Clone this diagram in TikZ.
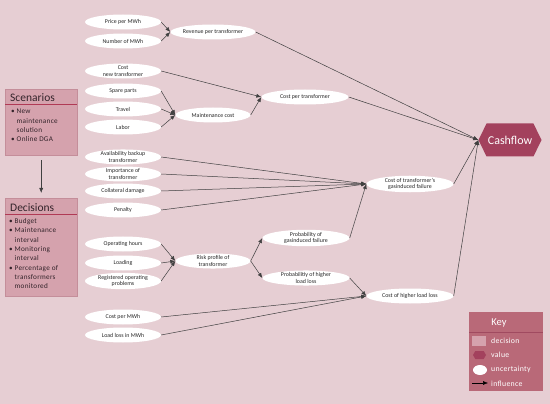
\documentclass[tikz,border=0pt]{standalone}
\usepackage{fontspec}
\setmainfont{Carlito}
\newfontfamily\boxfont[LetterSpace=4]{Carlito}
\usetikzlibrary{shapes.geometric,shapes.symbols,arrows.meta}
\definecolor{bg}{HTML}{E6CED3}
\definecolor{boxc}{HTML}{D5A2AD}
\definecolor{boxline}{HTML}{C48E9A}
\definecolor{titleline}{HTML}{B03A55}
\definecolor{keyc}{HTML}{B96978}
\definecolor{keyline}{HTML}{A04A60}
\definecolor{valc}{HTML}{A3415D}
\definecolor{txt}{HTML}{33232A}
\tikzset{
  unc/.style={ellipse, fill=white, minimum width=76pt, minimum height=15pt, inner sep=0pt,
    font=\fontsize{5.9}{6.5}\selectfont, align=center, text=black!85},
  wide/.style={minimum width=87pt},
  arr/.style={-{Latex[length=5pt,width=4pt]}, draw=black!75, line width=0.5pt},
  sbox/.style={rectangle, fill=boxc, draw=boxline, line width=0.4pt, minimum width=72pt, anchor=north west, inner sep=0pt},
  btitle/.style={anchor=west, font=\fontsize{11.5}{13}\selectfont, text=txt, inner sep=0pt},
  blist/.style={anchor=north west, align=left, font=\boxfont\fontsize{7.2}{9.3}\selectfont, text=txt, inner sep=0pt},
  ktext/.style={anchor=west, font=\boxfont\fontsize{7.8}{9}\selectfont, text=white, inner sep=0pt},
}
\begin{document}
\begin{tikzpicture}[x=1pt,y=-1pt]
\fill[bg] (0,0) rectangle (550,404);
\useasboundingbox (0,0) rectangle (550,404);

% uncertainty nodes
\node[unc] (price) at (123,22) {Price per MWh};
\node[unc] (nmwh) at (123,41) {Number of MWh};
\node[unc,minimum width=75pt] (rev) at (213,32) {Revenue per transformer};
\node[unc] (cnew) at (123,71) {Cost\\new transformer};
\node[unc] (spare) at (123,91) {Spare parts};
\node[unc] (travel) at (123,109) {Travel};
\node[unc] (labor) at (123,127) {Labor};
\node[unc,minimum width=75pt] (maint) at (213,115) {Maintenance cost};
\node[unc,wide] (cpt) at (305,97) {Cost per transformer};
\node[unc] (avail) at (123,157) {Availability backup\\transformer};
\node[unc] (imp) at (123,174) {Importance of\\transformer};
\node[unc] (coll) at (123,191) {Collateral damage};
\node[unc] (pen) at (123,210) {Penalty};
\node[unc,wide] (cgf) at (410,184) {Cost of transformer’s\\gasinduced failure};
\node[unc] (oph) at (123,244) {Operating hours};
\node[unc] (load) at (123,263) {Loading};
\node[unc] (reg) at (123,281) {Registered operating\\problems};
\node[unc,minimum width=75pt] (risk) at (213,261) {Risk profile of\\transformer};
\node[unc,wide] (pgf) at (306,238) {Probability of\\gasinduced failure};
\node[unc,wide] (phl) at (306,278) {Probabilitiy of higher\\load loss};
\node[unc,wide] (chl) at (410,296) {Cost of higher load loss};
\node[unc] (cmwh) at (123,317) {Cost per MWh};
\node[unc] (llmwh) at (123,335) {Load loss in MWh};

% value node
\node[signal, signal to=east and west, signal pointer angle=128, fill=valc,
  minimum width=63pt, minimum height=33pt, inner sep=0pt, text=white,
  font=\fontsize{12}{14}\selectfont] (cash) at (510,140) {Cashflow};

% arrows
\draw[arr] (price.east) -- (rev.west);
\draw[arr] (nmwh.east) -- (rev.west);
\draw[arr] (rev.east) -- (cash.west);
\draw[arr] (cnew.east) -- (cpt.west);
\draw[arr] (spare.east) -- (maint.west);
\draw[arr] (travel.east) -- (maint.west);
\draw[arr] (labor.east) -- (maint.west);
\draw[arr] (maint.east) -- (cpt.west);
\draw[arr] (cpt.east) -- (cash.west);
\draw[arr] (avail.east) -- (cgf.west);
\draw[arr] (imp.east) -- (cgf.west);
\draw[arr] (coll.east) -- (cgf.west);
\draw[arr] (pen.east) -- (cgf.west);
\draw[arr] (cgf.east) -- (cash.west);
\draw[arr] (pgf.east) -- (cgf.west);
\draw[arr] (oph.east) -- (risk.west);
\draw[arr] (load.east) -- (risk.west);
\draw[arr] (reg.east) -- (risk.west);
\draw[arr] (risk.east) -- (pgf.west);
\draw[arr] (risk.east) -- (phl.west);
\draw[arr] (phl.east) -- (chl.west);
\draw[arr] (cmwh.east) -- (chl.west);
\draw[arr] (llmwh.east) -- (chl.west);
\draw[arr] (chl.east) -- (cash.west);

% scenarios box
\node[sbox, minimum height=66pt] (scen) at (5,89) {};
\node[btitle] (scentitle) at (10,98) {Scenarios};
\draw[titleline, line width=0.8pt] (scen.west |- 0,104) -- (scen.east |- 0,104);
\node[blist] (scenlist) at (11,109) {• New\\\phantom{• }maintenance\\\phantom{• }solution\\• Online DGA};

% decisions box
\node[sbox, minimum height=98pt] (dec) at (5,198) {};
\node[btitle] (dectitle) at (10,207.5) {Decisions};
\draw[titleline, line width=0.8pt] (dec.west |- 0,214) -- (dec.east |- 0,214);
\node[blist] (declist) at (9,218.5) {• Budget\\• Maintenance\\\phantom{• }interval\\• Monitoring\\\phantom{• }interval\\• Percentage of\\\phantom{• }transformers\\\phantom{• }monitored};

\draw[arr, shorten <=5pt, shorten >=5pt] (scen.south) -- (dec.north);

% key box
\node[rectangle, fill=keyc, minimum width=74pt, minimum height=79pt, anchor=north west, inner sep=0pt] (key) at (469,312) {};
\node[font=\fontsize{10.5}{12}\selectfont, text=white, inner sep=0pt] (keytitle) at (499,322.5) {Key};
\draw[keyline, line width=0.8pt] (key.west |- 0,332) -- (key.east |- 0,332);
\node[rectangle, fill=boxc, minimum width=14pt, minimum height=10pt, inner sep=0pt] (kdec) at (479,341) {};
\node[ktext] (kdect) at (491,340.5) {decision};
\node[signal, signal to=east and west, signal pointer angle=120, fill=valc, minimum width=13pt, minimum height=8pt, inner sep=0pt] (kval) at (479.5,355) {};
\node[ktext] (kvalt) at (491,354.5) {value};
\node[ellipse, fill=white, minimum width=14pt, minimum height=10pt, inner sep=0pt] (kunc) at (480,370) {};
\node[ktext] (kunct) at (491,369) {uncertainty};
\coordinate (kinfa) at (472,383);
\coordinate (kinfb) at (488,383);
\node[ktext] (kinft) at (491,383.5) {influence};
\draw[arr, draw=black] (kinfa) -- (kinfb);
\end{tikzpicture}
\end{document}
